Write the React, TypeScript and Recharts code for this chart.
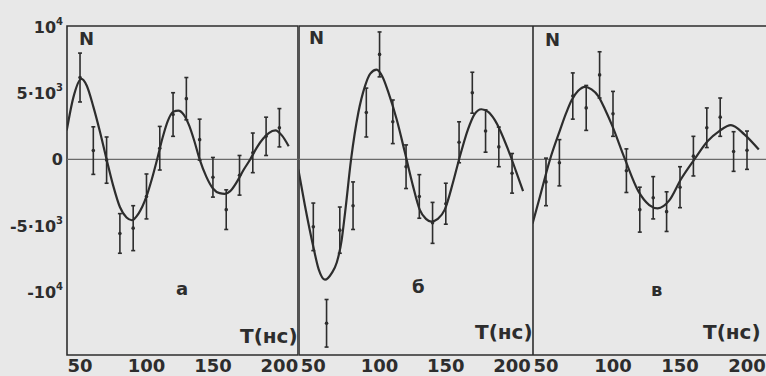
import React from 'react';
import {
  ComposedChart,
  Line,
  Scatter,
  ErrorBar,
  XAxis,
  YAxis,
  ReferenceLine,
  ReferenceArea,
} from 'recharts';

// measurement times, ns
const pointT = [50, 60, 70, 80, 90, 100, 110, 120, 130, 140, 150, 160, 170, 180, 190, 200];

// N in units of 10^3, panel а
const nA = [6.2, 0.67, -0.05, -5.6, -5.2, -2.8, 0.85, 3.4, 4.6, 1.5, -1.35, -3.8, -1.2, 0.5, 1.75, 2.4];
const errA = [1.85, 1.8, 1.75, 1.5, 1.7, 1.7, 1.65, 1.65, 1.6, 1.55, 1.5, 1.5, 1.5, 1.5, 1.45, 1.45];
// panel б
const nB = [-5.1, -12.4, -5.35, -3.5, 3.55, 7.95, 2.85, -0.55, -2.8, -4.8, -3.35, 1.3, 5.05, 2.15, 0.95, -1.05];
const errB = [1.8, 1.8, 1.75, 1.8, 1.85, 1.7, 1.65, 1.65, 1.65, 1.55, 1.55, 1.55, 1.55, 1.6, 1.5, 1.5];
// panel в
const nC = [-1.7, -0.25, 4.8, 3.9, 6.4, 3.45, -0.85, -3.8, -2.9, -3.95, -2.1, 0.25, 2.4, 3.2, 0.6, 0.7];
const errC = [1.8, 1.75, 1.75, 1.7, 1.75, 1.7, 1.65, 1.7, 1.6, 1.5, 1.55, 1.5, 1.5, 1.45, 1.5, 1.45];

// fitted curves
const fitTA = [40, 45, 51, 55, 60, 65, 70, 75, 80, 85, 89, 94, 100, 104, 108, 112, 116, 120, 124, 128, 132, 136, 140, 145, 150, 155, 159, 163, 168, 173, 178, 183, 188, 192, 197, 202, 207];
const fitNA = [2.2, 4.7, 6.1, 5.6, 4.0, 2.1, 0, -2.0, -3.6, -4.4, -4.6, -4.1, -2.8, -1.5, 0, 1.6, 2.9, 3.6, 3.7, 3.4, 2.6, 1.4, 0, -1.3, -2.2, -2.55, -2.6, -2.4, -1.7, -0.8, 0, 0.9, 1.6, 2.0, 2.2, 1.8, 1.0];
const fitTB = [38.7, 43.7, 50, 54, 58.8, 63.9, 67.7, 71.4, 74, 78.5, 84, 89, 93, 97.8, 102, 106.6, 113, 119.2, 125.2, 130.3, 135, 139, 144, 149.2, 155.4, 160, 166.8, 171.5, 176.8, 182, 186.9, 197, 203, 208.3];
const fitNB = [-0.75, -3.5, -6.6, -8.3, -9.1, -8.6, -7.8, -6.1, -4.0, 0, 3.55, 5.55, 6.5, 6.8, 6.3, 5.1, 3.0, 0.5, -2.0, -3.8, -4.5, -4.7, -4.5, -3.8, -1.75, 0, 2.3, 3.4, 3.8, 3.6, 3.0, 0.75, -0.9, -2.4];
const fitTC = [40, 45.5, 53, 60.4, 65, 69.2, 74, 79.1, 84, 89, 94, 99, 109, 118.9, 127.1, 133.4, 142, 150.7, 160.7, 170.7, 179.3, 188, 198, 208.8];
const fitNC = [-4.85, -2.8, 0, 2.2, 3.5, 4.5, 5.2, 5.5, 5.3, 4.8, 3.8, 2.65, 0, -2.4, -3.45, -3.7, -3.1, -1.5, 0, 1.4, 2.15, 2.6, 1.9, 0.75];

const xTicks = [50, 100, 150, 200];
const yTicks = [-10, -5, 0, 5, 10];
const yMant = ['-10', '-5·10', '0', '5·10', '10'];
const yExp = ['4', '3', '', '3', '4'];

const ink = '#2d2d2d';
const font = '"DejaVu Sans", sans-serif';
const yDomain = [-14.8, 10.1];

const XTick = ({ x, y, payload }: any) => (
  <text x={x} y={y} dy={15} textAnchor='middle' fontSize={18} fontWeight='bold' fill={ink} fontFamily={font}>
    {payload.value}
  </text>
);

const YTick = ({ x, y, payload }: any) => {
  const i = yTicks.indexOf(payload.value);
  return (
    <text x={x - 2} y={y} dy={6} textAnchor='end' fontSize={16} fontWeight='bold' fill={ink} fontFamily={font}>
      {yMant[i]}
      {yExp[i] && (
        <tspan dy={-8} fontSize={10}>
          {yExp[i]}
        </tspan>
      )}
    </text>
  );
};

interface PanelProps {
  left: number;
  width: number;
  xDomain: number[];
  fitT: number[];
  fitN: number[];
  n: number[];
  err: number[];
  showY: boolean;
}

const Panel = ({ left, width, xDomain, fitT, fitN, n, err, showY }: PanelProps) => {
  const curve = fitT.map((t, i) => ({ t, n: fitN[i] }));
  const pts = pointT.map((t, i) => ({ t, n: n[i], err: err[i] }));
  return (
    <div style={{ position: 'absolute', left, top: 0 }}>
      <ComposedChart width={width} height={376} margin={{ top: 26, right: showY ? 2 : 0, bottom: 0, left: 0 }}>
        <XAxis
          dataKey='t'
          type='number'
          domain={xDomain}
          allowDataOverflow
          ticks={xTicks}
          tick={<XTick />}
          tickLine={false}
          tickSize={0}
          axisLine={false}
          height={21}
          interval={0}
        />
        <YAxis
          type='number'
          domain={yDomain}
          allowDataOverflow
          ticks={yTicks}
          tick={<YTick />}
          tickLine={false}
          tickSize={0}
          axisLine={false}
          width={showY ? 67 : 0}
          hide={!showY}
          interval={0}
        />
        <ReferenceLine y={0} stroke='#6a6a6a' strokeWidth={1.2} />
        <ReferenceArea
          x1={xDomain[0]}
          x2={xDomain[1]}
          y1={yDomain[0]}
          y2={yDomain[1]}
          fill='none'
          fillOpacity={0}
          stroke={ink}
          strokeWidth={1.6}
        />
        <Line
          data={curve}
          dataKey='n'
          type='monotone'
          stroke={ink}
          strokeWidth={2.2}
          dot={false}
          isAnimationActive={false}
        />
        <Scatter data={pts} dataKey='n' fill={ink} shape={(p: any) => <circle cx={p.cx} cy={p.cy} r={1.8} fill={ink} />} isAnimationActive={false}>
          <ErrorBar dataKey='err' direction='y' width={2} stroke={ink} strokeWidth={1.6} />
        </Scatter>
      </ComposedChart>
    </div>
  );
};

const lbl = (x: number, y: number, size: number): React.CSSProperties => ({
  position: 'absolute',
  left: x,
  top: y,
  fontFamily: font,
  fontWeight: 'bold',
  fontSize: size,
  color: ink,
  lineHeight: 1,
  whiteSpace: 'nowrap',
});

export default function App() {
  return (
    <div
      style={{
        position: 'absolute',
        left: 0,
        top: 0,
        width: 766,
        height: 376,
        overflow: 'hidden',
        background: '#e8e8e8',
      }}
    >
      <Panel left={0} width={300} xDomain={[40.2, 214]} fitT={fitTA} fitN={fitNA} n={nA} err={errA} showY />
      <Panel left={299} width={234} xDomain={[39.2, 215.8]} fitT={fitTB} fitN={fitNB} n={nB} err={errB} showY={false} />
      <Panel left={533} width={240} xDomain={[40.3, 219.4]} fitT={fitTC} fitN={fitNC} n={nC} err={errC} showY={false} />

      <div style={lbl(79, 30, 18)}>N</div>
      <div style={lbl(309, 29, 18)}>N</div>
      <div style={lbl(545, 31, 18)}>N</div>

      <div style={lbl(176, 280, 18)}>а</div>
      <div style={lbl(412, 278, 18)}>б</div>
      <div style={lbl(651, 281, 18)}>в</div>

      <div style={lbl(240, 326, 20)}>Т(нс)</div>
      <div style={lbl(475, 322, 20)}>Т(нс)</div>
      <div style={lbl(703, 322, 20)}>Т(нс)</div>
    </div>
  );
}
